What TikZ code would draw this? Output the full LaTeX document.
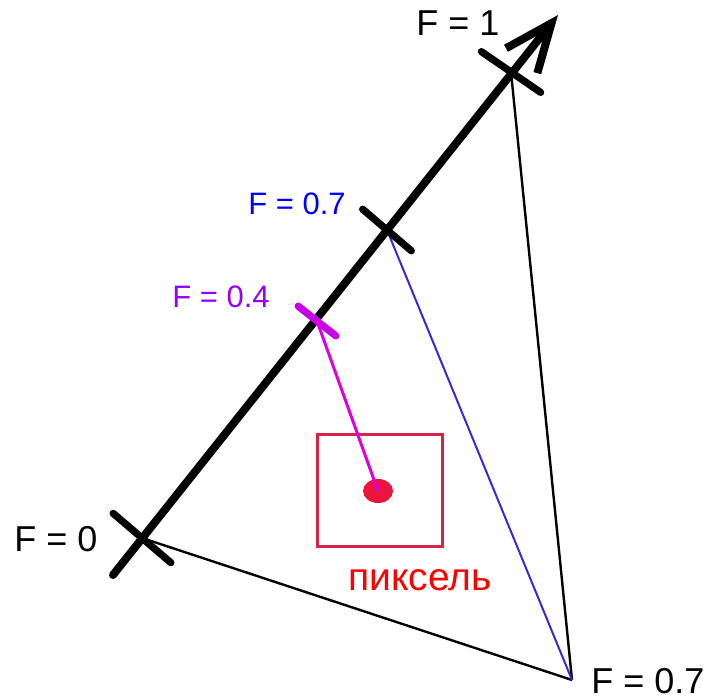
\documentclass[tikz,border=0pt]{standalone}
\usepackage{fontspec}
\setmainfont{Liberation Sans}
\usetikzlibrary{arrows.meta, positioning, calc, shapes.geometric}
\definecolor{pixred}{RGB}{215,35,70}
\definecolor{dotred}{RGB}{235,20,60}
\definecolor{txtred}{RGB}{255,0,0}
\definecolor{lblblue}{RGB}{0,0,255}
\definecolor{lnblue}{RGB}{60,40,210}
\definecolor{lblviolet}{RGB}{150,0,255}
\definecolor{lnmag}{RGB}{220,0,220}

\begin{document}
\begin{tikzpicture}[x=0.5pt, y=-0.5pt,
      axis/.style={line width=4pt, black, line cap=round},
      tick/.style={line width=3.6pt, line cap=round},
      side/.style={line width=1.2pt, black},
      lbl/.style={font=\fontsize{18}{20}\selectfont, inner sep=0pt, anchor=base},
      small/.style={font=\fontsize{15.5}{18}\selectfont, inner sep=0pt, anchor=base},
      ]
    \useasboundingbox (0,0) rectangle (708,700);

    % points on the axis
    \coordinate (start) at (113,575);
    \coordinate (f0) at (142,538);
    \coordinate (f04) at (317,321);
    \coordinate (f07) at (387,230);
    \coordinate (f1) at (511,72);
    \coordinate (tip) at (558,15);
    \coordinate (far) at (572,680);

    % triangle sides
    \draw[side] (f0) -- (far);
    \draw[side] (f1) -- (far);
    \draw[lnblue, line width=1pt] (f07) -- (far);

    % axis with ticks
    \draw[axis, -{Straight Barb[length=24pt, width=20pt]}] (start) -- (tip);
    \draw[tick] ($(f0)!19pt!-92:(tip)$) -- ($(f0)!19pt!88:(tip)$);
    \draw[tick] ($(f07)!16pt!-92:(tip)$) -- ($(f07)!16pt!88:(tip)$);
    \draw[tick] ($(f1)!18pt!-85:(tip)$) -- ($(f1)!18pt!95:(tip)$);
    \draw[tick, lnmag!70!lblviolet] ($(f04)!12pt!-90:(tip)$) -- ($(f04)!12pt!90:(tip)$);

    % pixel
    \node[draw=pixred, line width=1.5pt, minimum width=62.5pt, minimum height=56pt,
          inner sep=0pt] (pix) at (379.5,491) {};
    \node[ellipse, fill=dotred, minimum width=15pt, minimum height=12pt,
          inner sep=0pt] (dot) at (378,491) {};
    \draw[lnmag, line width=1.5pt] (f04) -- (dot.center);

    % labels
    \node[lbl] (l1) at (458,36) {F = 1};
    \node[small, lblblue] (l07) at (297,215) {F = 0.7};
    \node[small, lblviolet] (l04) at (221,308) {F = 0.4};
    \node[lbl] (l0) at (56,552) {F = 0};
    \node[lbl] (lfar) at (648,693) {F = 0.7};
    \node[lbl, txtred, font=\fontsize{19.5}{22}\selectfont] (lpix) at (420,591) {пиксель};
  \end{tikzpicture}
\end{document}
